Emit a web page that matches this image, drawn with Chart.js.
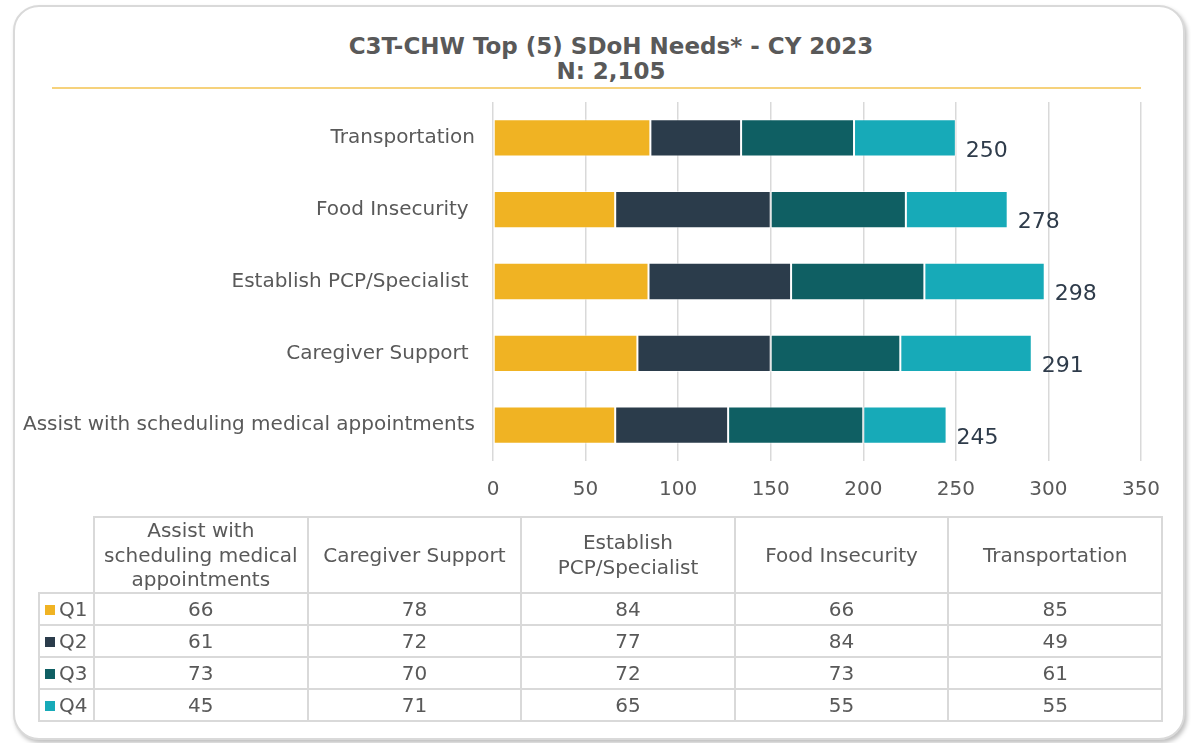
<!DOCTYPE html>
<html>
<head>
<meta charset="utf-8">
<script src="https://cdn.jsdelivr.net/npm/chart.js@4/dist/chart.umd.min.js"></script>
<style>
  html, body { margin: 0; padding: 0; background: #fff; }
  body { width: 1191px; height: 743px; position: relative; overflow: hidden; font-family: "DejaVu Sans", Verdana, sans-serif; }
  #frame { position: absolute; left: 13px; top: 5px; width: 1168px; height: 731px; border: 2px solid #D9D9D9; border-radius: 26px; box-shadow: 2px 3px 4px rgba(0,0,0,0.25); background: #fff; }
  #title { position: absolute; left: 0; top: 34px; width: 1222px; text-align: center; color: #595959; font-weight: bold; font-size: 23px; line-height: 25px; }
  #wrap { position: absolute; left: 0; top: 0; width: 1191px; height: 527px; }
  #tbl { position: absolute; left: 38px; top: 516px; border-collapse: collapse; table-layout: fixed; color: #595959; font-size: 20px; }
  #tbl td { border: 2px solid #D9D9D9; text-align: center; padding: 0 6px; white-space: normal; }
  #tbl tr.head td { height: 71px; line-height: 24.5px; }
  #tbl tr.row td { height: 30px; line-height: 30px; }
  #tbl td.corner { border-top: none; border-left: none; }
  #tbl td.key { text-align: left; padding: 0 0 0 5px; white-space: nowrap; }
  .sw { display: inline-block; width: 10px; height: 10px; margin-right: 4px; vertical-align: 1px; }
</style>
</head>
<body>
<div id="frame"></div>
<div id="title"></div>
<div id="wrap"><canvas id="c" width="1191" height="527"></canvas></div>
<table id="tbl"></table>
<script>
const categories = ["Assist with scheduling medical appointments", "Caregiver Support ", "Establish PCP/Specialist ", "Food Insecurity ", "Transportation"];
const seriesNames = ["Q1", "Q2", "Q3", "Q4"];
const q1 = [66, 78, 84, 66, 85];
const q2 = [61, 72, 77, 84, 49];
const q3 = [73, 70, 72, 73, 61];
const q4 = [45, 71, 65, 55, 55];
const seriesColors = ["#F0B323", "#2B3C4B", "#0F5F63", "#17AAB8"];
const xTicks = [0, 50, 100, 150, 200, 250, 300, 350];
const titleLines = ["C3T-CHW Top (5) SDoH Needs* - CY 2023", "N: 2,105"];

const seriesValues = [q1, q2, q3, q4];
const totals = categories.map((_, i) => seriesValues.reduce((s, arr) => s + arr[i], 0));
const FONT = '"DejaVu Sans", Verdana, sans-serif';

const titleEl = document.getElementById('title');
titleLines.forEach((t, i) => {
  if (i) titleEl.appendChild(document.createElement('br'));
  titleEl.appendChild(document.createTextNode(t));
});

const totalsPlugin = {
  id: 'totals',
  afterDatasetsDraw(chart) {
    const ctx = chart.ctx;
    const meta = chart.getDatasetMeta(chart.data.datasets.length - 1);
    ctx.save();
    ctx.font = '22px ' + FONT;
    ctx.fillStyle = '#2E3B4A';
    ctx.textAlign = 'left';
    ctx.textBaseline = 'middle';
    meta.data.forEach((bar, i) => {
      ctx.fillText(String(totals[i]), bar.x + 10, bar.y + 13);
    });
    ctx.restore();
  }
};

const ruleLine = {
  id: 'ruleLine',
  beforeDraw(chart) {
    const ctx = chart.ctx;
    ctx.save();
    ctx.strokeStyle = '#F6D27C';
    ctx.lineWidth = 2;
    ctx.beginPath();
    ctx.moveTo(52, 88);
    ctx.lineTo(chart.chartArea.right, 88);
    ctx.stroke();
    ctx.restore();
  }
};

new Chart(document.getElementById('c'), {
  type: 'bar',
  data: {
    labels: categories,
    datasets: seriesNames.map((n, k) => ({
      label: n,
      data: seriesValues[k],
      backgroundColor: seriesColors[k],
      borderColor: 'rgba(255,255,255,0.55)',
      borderWidth: 1,
      borderSkipped: false,
      categoryPercentage: 1,
      barPercentage: 0.52
    }))
  },
  options: {
    indexAxis: 'y',
    responsive: false,
    animation: false,
    devicePixelRatio: 1,
    layout: { padding: { left: 0, right: 50, top: 102, bottom: 8 } },
    plugins: {
      legend: { display: false },
      tooltip: { enabled: false },
      title: { display: false }
    },
    scales: {
      x: {
        stacked: true,
        min: 0, max: 350,
        afterBuildTicks(scale) { scale.ticks = xTicks.map(v => ({ value: v })); },
        grid: { color: '#D9D9D9', lineWidth: 1.5, drawTicks: false },
        border: { display: false },
        ticks: { color: '#595959', padding: 17, font: { family: FONT, size: 20 } }
      },
      y: {
        stacked: true,
        reverse: true,
        afterFit(scale) { scale.width = 493; },
        grid: { display: false, drawTicks: false },
        border: { display: false },
        ticks: { color: '#595959', padding: 18, font: { family: FONT, size: 20 } }
      }
    }
  },
  plugins: [totalsPlugin, ruleLine]
});

// Data table built from the same arrays (displayed in original order)
const tbl = document.getElementById('tbl');
const colgroup = document.createElement('colgroup');
const c0 = document.createElement('col'); c0.style.width = '55px'; colgroup.appendChild(c0);
categories.forEach(() => { const c = document.createElement('col'); c.style.width = '213.6px'; colgroup.appendChild(c); });
tbl.appendChild(colgroup);
const head = document.createElement('tr'); head.className = 'head';
const corner = document.createElement('td'); corner.className = 'corner'; head.appendChild(corner);
categories.forEach(cat => { const td = document.createElement('td'); td.textContent = cat.trim(); head.appendChild(td); });
tbl.appendChild(head);
seriesNames.forEach((n, k) => {
  const tr = document.createElement('tr'); tr.className = 'row';
  const key = document.createElement('td'); key.className = 'key';
  const sw = document.createElement('span'); sw.className = 'sw'; sw.style.background = seriesColors[k];
  key.appendChild(sw); key.appendChild(document.createTextNode(n));
  tr.appendChild(key);
  seriesValues[k].forEach(v => { const td = document.createElement('td'); td.textContent = v; tr.appendChild(td); });
  tbl.appendChild(tr);
});
</script>
</body>
</html>
